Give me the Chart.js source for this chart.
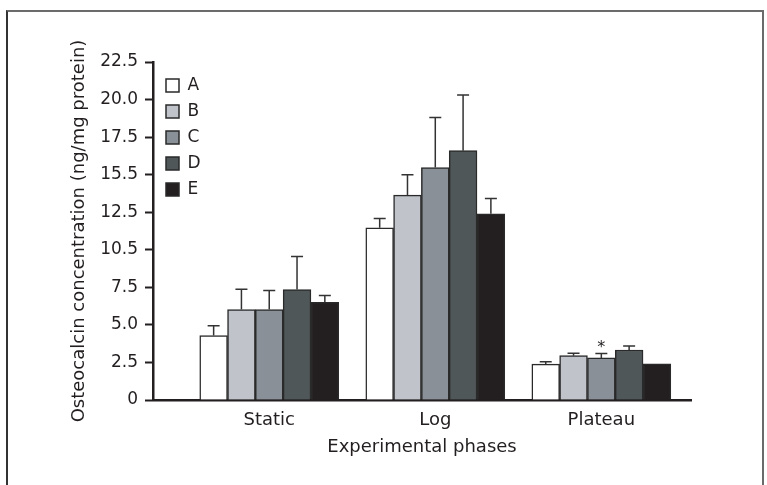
<!DOCTYPE html>
<html>
<head>
<meta charset="utf-8">
<script src="https://cdn.jsdelivr.net/npm/chart.js@4.4.1/dist/chart.umd.min.js"></script>
<style>
  html, body { margin: 0; padding: 0; background: #fff; }
  #wrap { position: relative; width: 767px; height: 485px; overflow: hidden; }
  #frame { position: absolute; left: 6px; top: 10px; width: 754px; height: 520px; border: 2px solid #6b6b6b; border-left-color: #333; }
  canvas { position: absolute; left: 0; top: 0; }
</style>
</head>
<body>
<div id="wrap">
  <div id="frame"></div>
  <canvas id="myBarChart" width="767" height="485"></canvas>
</div>
<script>
var phases = ['Static', 'Log', 'Plateau'];
var groups = ['A', 'B', 'C', 'D', 'E'];

// mean values per group, one entry per phase
var valuesA = [4.29, 11.46, 2.39];
var valuesB = [6.02, 13.64, 2.95];
var valuesC = [6.02, 15.48, 2.80];
var valuesD = [7.35, 16.60, 3.33];
var valuesE = [6.51, 12.39, 2.40];

// upper error (SD), same order
var errorsA = [0.65, 0.62, 0.16];
var errorsB = [1.35, 1.36, 0.16];
var errorsC = [1.27, 3.32, 0.29];
var errorsD = [2.20, 3.71, 0.27];
var errorsE = [0.44, 1.02, 0];

var yTickLabels = ['0', '2.5', '5.0', '7.5', '10.5', '12.5', '15.5', '17.5', '20.0', '22.5'];
var starMarks = [{ group: 'C', phase: 'Plateau', text: '*' }];

var allValues = [valuesA, valuesB, valuesC, valuesD, valuesE];
var allErrors = [errorsA, errorsB, errorsC, errorsD, errorsE];
var barColors = ['#ffffff', '#c0c4ca', '#8a9097', '#4f5759', '#231f20'];

Chart.defaults.font.family = "'DejaVu Sans', sans-serif";
Chart.defaults.color = '#231f20';

var datasets = groups.map(function (g, i) {
  return {
    label: g,
    data: phases.map(function (p, j) {
      return { x: j + 1, y: allValues[i][j] };
    }),
    errors: allErrors[i],
    backgroundColor: barColors[i],
    borderColor: '#2a2a2a',
    borderWidth: 1.5,
    barThickness: 27.8
  };
});

// error bars (upper half only) and the significance star
var errorBarPlugin = {
  id: 'errorBars',
  afterDatasetsDraw: function (chart) {
    var ctx = chart.ctx;
    var yScale = chart.scales.y;
    ctx.save();
    ctx.strokeStyle = '#333333';
    ctx.lineWidth = 1.5;
    chart.data.datasets.forEach(function (ds, i) {
      var meta = chart.getDatasetMeta(i);
      meta.data.forEach(function (bar, j) {
        var err = ds.errors[j];
        if (!err) return;
        var yCap = yScale.getPixelForValue(ds.data[j].y + err);
        ctx.beginPath();
        ctx.moveTo(bar.x, bar.y);
        ctx.lineTo(bar.x, yCap);
        ctx.moveTo(bar.x - 6, yCap);
        ctx.lineTo(bar.x + 6, yCap);
        ctx.stroke();
      });
    });

    ctx.fillStyle = '#231f20';
    ctx.font = "16px 'DejaVu Sans', sans-serif";
    ctx.textAlign = 'center';
    ctx.textBaseline = 'alphabetic';
    starMarks.forEach(function (m) {
      var i = groups.indexOf(m.group);
      var j = phases.indexOf(m.phase);
      var ds = chart.data.datasets[i];
      var bar = chart.getDatasetMeta(i).data[j];
      var yCap = yScale.getPixelForValue(ds.data[j].y + (ds.errors[j] || 0));
      ctx.fillText(m.text, bar.x, yCap - 2);
    });
    ctx.restore();
  }
};

// legend sits inside the plot, a little off the axis corner
var legendNudge = {
  id: 'legendNudge',
  afterLayout: function (chart) {
    chart.legend.left = chart.chartArea.left + 4;
    chart.legend.top = chart.chartArea.top + 6;
  }
};

var ctx = document.getElementById('myBarChart').getContext('2d');
var myBarChart = new Chart(ctx, {
  type: 'bar',
  data: { datasets: datasets },
  plugins: [errorBarPlugin, legendNudge],
  options: {
    responsive: false,
    animation: false,
    layout: {
      padding: { left: 0, right: 76, top: 62, bottom: 0 }
    },
    plugins: {
      tooltip: { enabled: false },
      legend: {
        position: 'chartArea',
        align: 'start',
        labels: {
          boxWidth: 13,
          boxHeight: 13,
          padding: 9,
          color: '#231f20',
          font: { size: 17 }
        }
      }
    },
    scales: {
      x: {
        type: 'linear',
        offset: false,
        min: 0.3,
        max: 3.54,
        afterBuildTicks: function (scale) {
          scale.ticks = phases.map(function (p, i) {
            return { value: i + 1 };
          });
        },
        afterFit: function (scale) {
          scale.height = 85;
        },
        ticks: {
          padding: 10,
          font: { size: 18 },
          color: '#231f20',
          callback: function (value) {
            return phases[value - 1];
          }
        },
        grid: { display: false, drawTicks: false },
        border: { display: true, color: '#231f20', width: 2.5 },
        title: {
          display: true,
          text: 'Experimental phases',
          font: { size: 18 },
          color: '#231f20',
          padding: { top: 0, bottom: 27 }
        }
      },
      y: {
        min: 0,
        max: 22.5,
        afterFit: function (scale) {
          scale.width = 153;
        },
        ticks: {
          stepSize: 2.5,
          padding: 7,
          font: { size: 17 },
          color: '#231f20',
          callback: function (value, index) {
            return yTickLabels[index];
          }
        },
        grid: {
          drawOnChartArea: false,
          drawTicks: true,
          tickLength: 8,
          tickWidth: 2,
          tickColor: '#231f20'
        },
        border: { display: true, color: '#231f20', width: 2.5 },
        title: {
          display: true,
          text: 'Osteocalcin concentration (ng/mg protein)',
          font: { size: 18 },
          color: '#231f20',
          padding: { top: 69, bottom: 0 }
        }
      }
    }
  }
});
</script>
</body>
</html>
